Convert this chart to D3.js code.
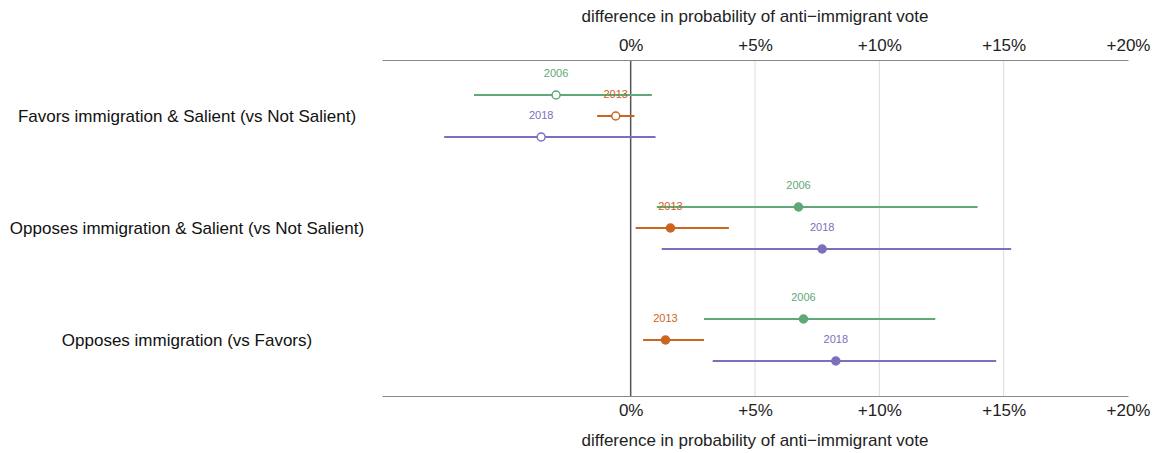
<!DOCTYPE html>
<html>
<head>
<meta charset="utf-8">
<script src="https://cdn.jsdelivr.net/npm/d3@7"></script>
<style>
  body { margin: 0; background: #fff; }
  text { font-family: "Liberation Sans", Arial, sans-serif; }
</style>
</head>
<body>
<div id="chart"></div>
<script>
// categories (top to bottom) and years
var categories = ["Favors immigration & Salient (vs Not Salient)",
                  "Opposes immigration & Salient (vs Not Salient)",
                  "Opposes immigration (vs Favors)"];
var years = ["2006", "2013", "2018"];
var yearColors = ["#5fa877", "#c9651f", "#7a70bd"];

// estimates and intervals, in percentage points, one value per category
var est2006 = [-3.0, 6.75, 6.95];
var lo2006  = [-6.3, 1.05, 2.95];
var hi2006  = [0.85, 13.95, 12.25];

var est2013 = [-0.6, 1.6, 1.4];
var lo2013  = [-1.35, 0.2, 0.5];
var hi2013  = [0.15, 3.95, 2.95];

var est2018 = [-3.6, 7.7, 8.25];
var lo2018  = [-7.5, 1.25, 3.3];
var hi2018  = [1.0, 15.3, 14.7];

var tickValues = [0, 5, 10, 15, 20];
var gridValues = [5, 10, 15];

var width = 1157, height = 453;

var svg = d3.select("#chart")
  .append("svg")
    .attr("width", width)
    .attr("height", height);

var x = d3.scaleLinear().domain([-10, 20]).range([382, 1128]);
var y = d3.scaleBand().domain(categories).range([60, 396]);
var yr = d3.scalePoint().domain(years).range([-21, 21]);

var fmt = function(d) { return d === 0 ? "0%" : "+" + d + "%"; };

// grid lines
svg.append("g").selectAll("line")
  .data(gridValues)
  .join("line")
    .attr("x1", d => x(d)).attr("x2", d => x(d))
    .attr("y1", 60).attr("y2", 396)
    .attr("stroke", "#dcdcdc")
    .attr("stroke-width", 1);

// zero line
svg.append("line")
  .attr("x1", x(0)).attr("x2", x(0))
  .attr("y1", 60).attr("y2", 396)
  .attr("stroke", "#555")
  .attr("stroke-width", 1.5);

// axes
var topAxis = svg.append("g")
  .attr("transform", "translate(0,60)")
  .call(d3.axisTop(x).tickValues(tickValues).tickFormat(fmt).tickSize(0).tickPadding(9));
var bottomAxis = svg.append("g")
  .attr("transform", "translate(0,396)")
  .call(d3.axisBottom(x).tickValues(tickValues).tickFormat(fmt).tickSize(0).tickPadding(8));

[topAxis, bottomAxis].forEach(function(a) {
  a.select(".domain").attr("stroke", "#888").attr("stroke-width", 1);
  a.selectAll("text")
    .style("font-family", "'Liberation Sans', Arial, sans-serif")
    .style("font-size", "17px")
    .attr("fill", "#222");
});

// axis titles
svg.append("text")
  .attr("x", 755).attr("y", 22)
  .attr("text-anchor", "middle")
  .style("font-size", "17px")
  .attr("fill", "#222")
  .text("difference in probability of anti\u2212immigrant vote");
svg.append("text")
  .attr("x", 755).attr("y", 446)
  .attr("text-anchor", "middle")
  .style("font-size", "17px")
  .attr("fill", "#222")
  .text("difference in probability of anti\u2212immigrant vote");

// category labels
svg.append("g").selectAll("text")
  .data(categories)
  .join("text")
    .attr("x", 187)
    .attr("y", d => y(d) + y.bandwidth() / 2)
    .attr("dy", "0.35em")
    .attr("text-anchor", "middle")
    .style("font-size", "17px")
    .attr("fill", "#111")
    .text(d => d);

// build rows from the arrays
var series = [
  {year: "2006", est: est2006, lo: lo2006, hi: hi2006},
  {year: "2013", est: est2013, lo: lo2013, hi: hi2013},
  {year: "2018", est: est2018, lo: lo2018, hi: hi2018}
];
var rows = [];
series.forEach(function(s, si) {
  categories.forEach(function(c, ci) {
    rows.push({cat: c, ci: ci, year: s.year, color: yearColors[si],
               est: s.est[ci], lo: s.lo[ci], hi: s.hi[ci]});
  });
});

var cy = d => y(d.cat) + y.bandwidth() / 2 + yr(d.year);

var marks = svg.append("g").selectAll("g")
  .data(rows)
  .join("g");

marks.append("line")
  .attr("x1", d => x(d.lo)).attr("x2", d => x(d.hi))
  .attr("y1", cy).attr("y2", cy)
  .attr("stroke", d => d.color)
  .attr("stroke-width", 2);

marks.append("circle")
  .attr("cx", d => x(d.est))
  .attr("cy", cy)
  .attr("r", 4)
  .attr("fill", d => d.ci === 0 ? "#fff" : d.color)
  .attr("stroke", d => d.color)
  .attr("stroke-width", 1.5);

marks.append("text")
  .attr("x", d => x(d.est))
  .attr("y", d => cy(d) - 18)
  .attr("text-anchor", "middle")
  .style("font-size", "11px")
  .attr("fill", d => d.color)
  .text(d => d.year);
</script>
</body>
</html>
